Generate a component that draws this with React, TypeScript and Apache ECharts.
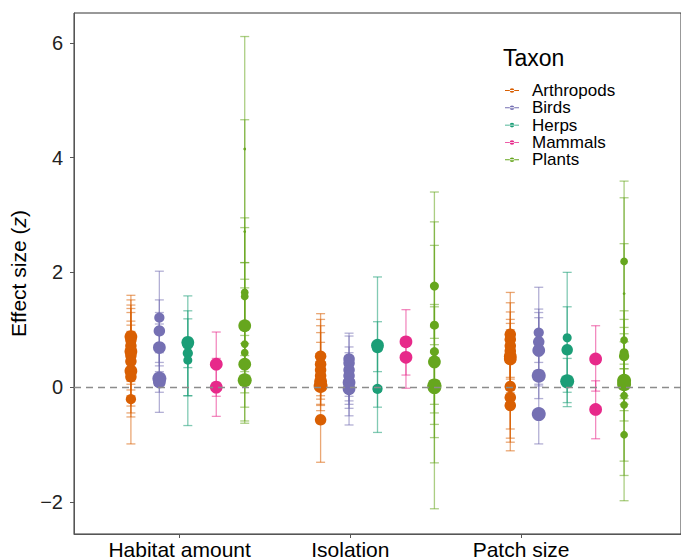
import React, { useEffect, useRef } from "react";
import * as echarts from "echarts";

const categories = ["Habitat amount", "Isolation", "Patch size"];
const taxa = ["Arthropods", "Birds", "Herps", "Mammals", "Plants"];
const colors = ["#D95F02", "#7570B3", "#1B9E77", "#E7298A", "#66A61E"];
const yTicks = [-2, 0, 2, 4, 6];

// [category (1..3), estimate, lower CI, upper CI, weight]
const arthropods = [
  [1, 0.88, 0.15, 1.6, 9], [1, 0.82, 0.3, 1.37, 8], [1, 0.72, -0.33, 1.52, 8],
  [1, 0.62, 0.1, 1.15, 9], [1, 0.55, -0.05, 1.08, 8], [1, 0.45, -0.15, 1.3, 8],
  [1, 0.28, -0.52, 0.97, 9], [1, 0.18, -0.99, 1.43, 8], [1, -0.21, -0.45, 0.05, 7],
  [2, 0.54, 0.05, 1.07, 8], [2, 0.4, -0.21, 0.95, 8], [2, 0.3, -0.32, 1.28, 8],
  [2, 0.2, -0.41, 0.78, 8], [2, 0.1, -0.15, 1.18, 9], [2, 0.02, -0.3, 0.35, 10],
  [2, -0.57, -1.31, 0.15, 8],
  [3, 0.92, 0.17, 1.65, 8], [3, 0.83, 0.14, 1.47, 8], [3, 0.72, -0.1, 1.31, 8],
  [3, 0.63, 0.05, 1.18, 8], [3, 0.54, -0.05, 1.11, 9], [3, 0.49, -0.89, 1.0, 9],
  [3, 0.01, -0.73, 0.75, 8], [3, -0.18, -0.96, 0.6, 8], [3, -0.32, -1.11, 0.45, 8],
];
const birds = [
  [1, 1.21, 0.43, 1.52, 7], [1, 0.98, 0.37, 1.3, 8], [1, 0.69, 0.27, 1.1, 9],
  [1, 0.15, -0.44, 2.02, 10], [1, 0.09, -0.09, 0.6, 9],
  [2, 0.49, -0.16, 0.94, 8], [2, 0.42, -0.24, 0.89, 8], [2, 0.3, -0.3, 0.7, 8],
  [2, 0.2, -0.37, 0.6, 8], [2, 0.08, -0.5, 0.55, 9], [2, -0.03, -0.66, 0.4, 9],
  [3, 0.95, 0.43, 1.36, 7], [3, 0.79, 0.25, 1.3, 8], [3, 0.64, 0.02, 1.21, 9],
  [3, 0.2, -0.2, 1.74, 10], [3, -0.47, -0.99, 0.05, 10],
];
const herps = [
  [1, 0.78, -0.15, 1.33, 9], [1, 0.75, 0.34, 1.19, 8], [1, 0.59, -0.67, 1.59, 7],
  [1, 0.47, -0.15, 0.78, 6],
  [2, 0.73, 0.27, 1.14, 9], [2, 0.69, -0.35, 1.92, 8], [2, -0.03, -0.79, 0.72, 7],
  [3, 0.86, -0.27, 2.0, 6], [3, 0.65, -0.09, 1.4, 8], [3, 0.1, -0.34, 0.5, 10],
];
const mammals = [
  [1, 0.4, -0.16, 0.96, 9], [1, 0.0, -0.51, 0.5, 9],
  [2, 0.79, 0.21, 1.35, 9], [2, 0.52, -0.02, 0.8, 9],
  [3, 0.49, -0.07, 1.07, 9], [3, -0.39, -0.9, 0.11, 9],
];
const plants = [
  [1, 4.15, 2.17, 6.11, 1], [1, 2.71, 0.76, 4.66, 1], [1, 1.65, 0.35, 2.95, 5],
  [1, 1.58, 0.38, 2.78, 5], [1, 1.07, 0.27, 1.88, 9], [1, 0.75, -0.63, 2.17, 5],
  [1, 0.6, -0.59, 1.73, 5], [1, 0.4, -0.1, 0.9, 9], [1, 0.12, -0.35, 0.55, 10],
  [2, 1.76, 0.85, 2.88, 6], [2, 1.08, 0.74, 1.44, 6], [2, 0.64, -2.12, 3.4, 2],
  [2, 0.62, -0.3, 1.4, 6], [2, 0.58, -1.32, 2.47, 3], [2, 0.44, -0.45, 1.05, 9],
  [2, 0.03, -0.65, 0.6, 10], [2, 0.0, -0.88, 0.45, 10],
  [3, 2.19, 0.79, 3.59, 5], [3, 1.63, -0.04, 3.3, 1], [3, 0.82, -0.41, 2.5, 5],
  [3, 0.6, -0.59, 1.33, 6], [3, 0.54, -0.15, 1.18, 7], [3, 0.11, -0.2, 0.4, 10],
  [3, 0.05, -0.3, 0.32, 10], [3, -0.15, -1.29, 1.04, 5], [3, -0.31, -1.54, 0.93, 5],
  [3, -0.83, -1.98, 0.32, 5],
];
const taxonData = [arthropods, birds, herps, mammals, plants];

const DODGE = 0.15;
const FONT = "'Liberation Sans', Arial, sans-serif";
const LEGEND_ICON =
  "path://M0,2.3h16v1H0z M5.4,2.8a2.6,2.6 0 1,0 5.2,0a2.6,2.6 0 1,0 -5.2,0z";

export default function App() {
  const ref = useRef<HTMLDivElement>(null);

  useEffect(() => {
    if (!ref.current) return;
    const chart = echarts.init(ref.current, null, { renderer: "svg" });

    const series: any[] = [];
    taxonData.forEach((rows, i) => {
      const color = colors[i];
      const off = (i - 2) * DODGE;
      series.push({
        name: taxa[i] + " CI",
        type: "custom",
        xAxisIndex: 0,
        z: 1,
        silent: true,
        data: rows.map((r) => [r[0] + off, r[2], r[3]]),
        encode: { x: 0, y: [1, 2] },
        renderItem: (params: any, api: any) => {
          const x = api.value(0);
          const top = api.coord([x, api.value(2)]);
          const bot = api.coord([x, api.value(1)]);
          const w = 4.5;
          const style = { stroke: color, lineWidth: 1.3, opacity: 0.55 };
          return {
            type: "group",
            children: [
              { type: "line", shape: { x1: top[0], y1: top[1], x2: bot[0], y2: bot[1] }, style },
              { type: "line", shape: { x1: top[0] - w, y1: top[1], x2: top[0] + w, y2: top[1] }, style },
              { type: "line", shape: { x1: bot[0] - w, y1: bot[1], x2: bot[0] + w, y2: bot[1] }, style },
            ],
          };
        },
      });
    });
    series.push({
      name: "zero",
      type: "scatter",
      xAxisIndex: 0,
      data: [],
      z: 2,
      markLine: {
        silent: true,
        symbol: "none",
        label: { show: false },
        lineStyle: { color: "#8c8c8c", type: [7, 5], width: 1.3 },
        data: [{ yAxis: 0 }],
      },
    });
    taxonData.forEach((rows, i) => {
      const off = (i - 2) * DODGE;
      series.push({
        name: taxa[i],
        type: "scatter",
        xAxisIndex: 0,
        z: 3,
        itemStyle: { color: colors[i], opacity: 1 },
        symbolSize: (v: number[]) => 1.5 + v[2] * 1.25,
        data: rows.map((r) => [r[0] + off, r[1], r[4]]),
      });
    });

    chart.setOption({
      animation: false,
      textStyle: { fontFamily: FONT },
      title: {
        text: "Taxon",
        left: 498,
        top: 41,
        textStyle: { fontSize: 23, fontWeight: "normal", color: "#000", fontFamily: FONT },
      },
      legend: {
        data: taxa,
        orient: "vertical",
        left: 500,
        top: 77,
        itemWidth: 14,
        itemHeight: 6,
        itemGap: 0.3,
        icon: LEGEND_ICON,
        selectedMode: false,
        textStyle: { fontSize: 17, lineHeight: 17, color: "#000", padding: [0, 0, 0, 8], fontFamily: FONT },
      },
      grid: {
        left: 74,
        right: -8,
        top: 13,
        bottom: 26,
        show: true,
        borderColor: "#333",
        borderWidth: 1,
      },
      xAxis: [
        {
          type: "value",
          min: 0.4,
          max: 3.6,
          show: false,
          splitLine: { show: false },
        },
        {
          type: "value",
          min: 0.3815,
          max: 3.9364,
          position: "bottom",
          splitLine: { show: false },
          axisLine: { show: true, lineStyle: { color: "#555", width: 1 } },
          axisTick: { show: true, customValues: [1, 2, 3], length: 4, lineStyle: { color: "#555" } },
          axisLabel: {
            customValues: [1, 2, 3],
            formatter: (v: number) => categories[Math.round(v) - 1] || "",
            fontSize: 21,
            color: "#000",
            margin: 5,
            fontFamily: FONT,
          },
        },
      ],
      yAxis: {
        type: "value",
        min: -2.56,
        max: 6.52,
        splitLine: { show: false },
        axisLine: { show: true, lineStyle: { color: "#555", width: 1 } },
        axisTick: { show: true, customValues: yTicks, length: 4, lineStyle: { color: "#555" } },
        axisLabel: {
          customValues: yTicks,
          formatter: (v: number) => (v < 0 ? "\u2212" + Math.abs(v) : String(v)),
          fontSize: 20,
          color: "#222",
          margin: 11,
          fontFamily: FONT,
        },
        name: "{a|Effect size (}{b|z}{a|)}",
        nameLocation: "middle",
        nameGap: 30,
        nameTextStyle: {
          rich: {
            a: { fontSize: 21, color: "#000", fontFamily: FONT },
            b: { fontSize: 21, color: "#000", fontStyle: "italic", fontFamily: FONT },
          },
        },
      },
      series,
    });

    return () => chart.dispose();
  }, []);

  return (
    <div
      ref={ref}
      style={{ position: "fixed", left: 0, top: 0, width: 681, height: 560, background: "#fff" }}
    />
  );
}
